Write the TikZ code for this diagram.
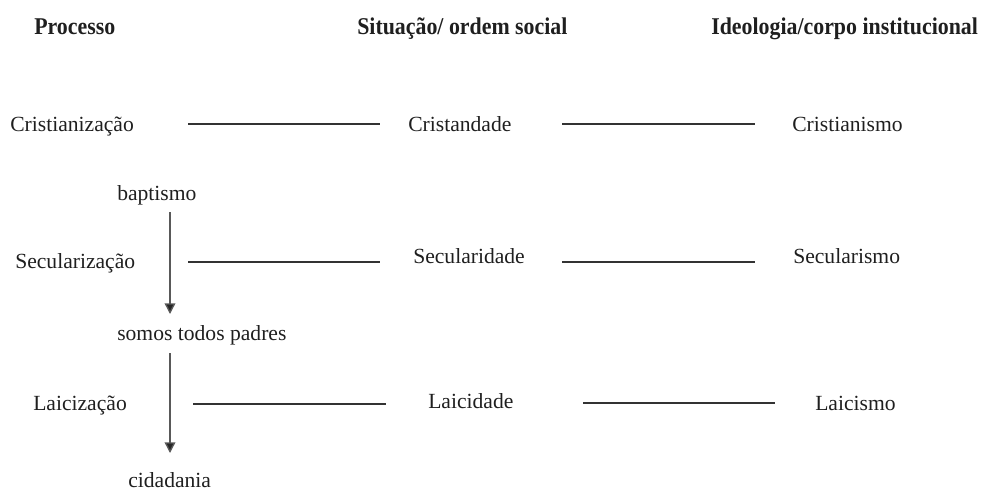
\documentclass[tikz,border=0pt]{standalone}
\usepackage{fontspec}
\setmainfont{Liberation Serif}
\usetikzlibrary{arrows.meta}
\begin{document}
\begin{tikzpicture}[x=0.75pt,y=-0.75pt,
  lbl/.style={anchor=base west,inner sep=0pt,font=\fontsize{16.2pt}{18pt}\selectfont,text=black!88},
  hdr/.style={lbl,font=\fontsize{16.4pt}{18pt}\selectfont\bfseries,yscale=1.1},
  hline/.style={draw=black!80,line width=0.8pt},
  varrow/.style={draw=black!65,line width=1pt,-{Triangle[width=8pt,length=8pt,fill=black!85]}}]
\useasboundingbox (0,0) rectangle (982,490);
% headers
\node[hdr] (h1) at (34,34) {Processo};
\node[hdr] (h2) at (357,34) {Situação/ ordem social};
\node[hdr] (h3) at (711,34) {Ideologia/corpo institucional};
% row 1
\node[lbl] (crz) at (10,131) {Cristianização};
\node[lbl] (crd) at (408,131) {Cristandade};
\node[lbl] (crm) at (792,131) {Cristianismo};
% row 2
\node[lbl] (bap) at (117,200) {baptismo};
\node[lbl] (scz) at (15,268) {Secularização};
\node[lbl] (scd) at (413,263) {Secularidade};
\node[lbl] (scm) at (793,263) {Secularismo};
\node[lbl] (stp) at (117,340) {somos todos padres};
% row 3
\node[lbl] (lcz) at (33,410) {Laicização};
\node[lbl] (lcd) at (428,408) {Laicidade};
\node[lbl] (lcm) at (815,410) {Laicismo};
\node[lbl] (cid) at (128,487) {cidadania};
% connector end points
\coordinate (r1a) at (188,124); \coordinate (r1b) at (380,124);
\coordinate (r1c) at (562,124); \coordinate (r1d) at (755,124);
\coordinate (r2a) at (188,262); \coordinate (r2b) at (380,262);
\coordinate (r2c) at (562,262); \coordinate (r2d) at (755,262);
\coordinate (r3a) at (193,404); \coordinate (r3b) at (386,404);
\coordinate (r3c) at (583,403); \coordinate (r3d) at (775,403);
\coordinate (v1a) at (170,212); \coordinate (v1b) at (170,314);
\coordinate (v2a) at (170,353); \coordinate (v2b) at (170,453);
% horizontal connectors
\draw[hline] (r1a) -- (r1b);
\draw[hline] (r1c) -- (r1d);
\draw[hline] (r2a) -- (r2b);
\draw[hline] (r2c) -- (r2d);
\draw[hline] (r3a) -- (r3b);
\draw[hline] (r3c) -- (r3d);
% vertical arrows
\draw[varrow] (v1a) -- (v1b);
\draw[varrow] (v2a) -- (v2b);
\end{tikzpicture}
\end{document}
